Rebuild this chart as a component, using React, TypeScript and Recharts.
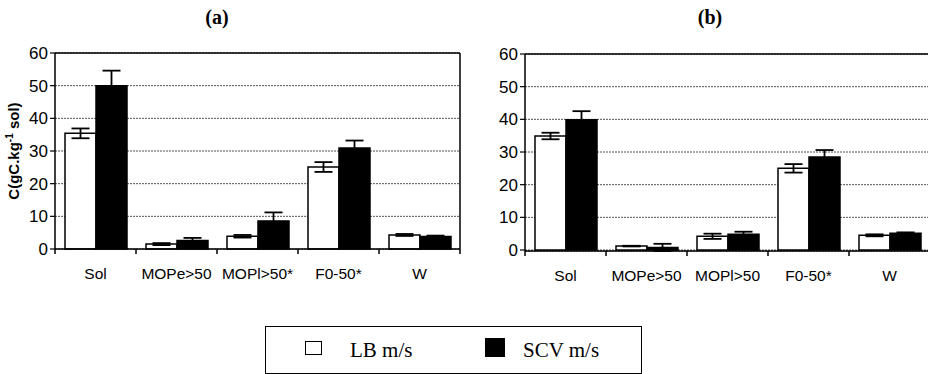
import React from 'react';
import { BarChart, Bar, XAxis, YAxis, CartesianGrid, ErrorBar, ReferenceLine, Label } from 'recharts';

const categoriesA = ['Sol', 'MOPe>50', 'MOPl>50*', 'F0-50*', 'W'];
const lbA = [35.4, 1.5, 3.9, 25.1, 4.3];
const lbErrA = [1.5, 0.3, 0.4, 1.5, 0.3];
const scvA = [50.0, 2.6, 8.6, 30.9, 3.8];
const scvErrA = [4.6, 0.8, 2.6, 2.3, 0.3];

const categoriesB = ['Sol', 'MOPe>50', 'MOPl>50', 'F0-50*', 'W'];
const lbB = [34.9, 1.2, 4.2, 25.0, 4.5];
const lbErrB = [1.0, 0.1, 0.8, 1.3, 0.3];
const scvB = [39.9, 0.8, 4.8, 28.5, 5.1];
const scvErrB = [2.6, 1.1, 0.8, 2.1, 0.3];

const yTicks = [0, 10, 20, 30, 40, 50, 60];
const seriesNames = ['LB m/s', 'SCV m/s'];
const titles = ['(a)', '(b)'];
const yLabelMain = 'C(gC.kg';
const yLabelSup = '-1';
const yLabelEnd = ' sol)';

const build = (cats: string[], lb: number[], lbe: number[], scv: number[], scve: number[]) =>
  cats.map((c, i) => ({ cat: c, lb: lb[i], lbErr: lbe[i], scv: scv[i], scvErr: scve[i] }));

const dataA = build(categoriesA, lbA, lbErrA, scvA, scvErrA);
const dataB = build(categoriesB, lbB, lbErrB, scvB, scvErrB);

const SANS = 'Arial, "Liberation Sans", sans-serif';
const SERIF = '"Times New Roman", "Liberation Serif", serif';

const XTick = (props: any) => {
  const { x, y, payload, index, visibleTicksCount } = props;
  const off = payload && payload.offset != null ? payload.offset : 40.5;
  const top = y - 8;
  return (
    <g>
      <line x1={x - off} x2={x - off} y1={top} y2={top + 5} stroke="#000" strokeWidth={1.5} />
      {index === (visibleTicksCount ?? 5) - 1 && (
        <line x1={x + off} x2={x + off} y1={top} y2={top + 5} stroke="#000" strokeWidth={1.5} />
      )}
      <text x={x} y={top + 30} textAnchor="middle" fontFamily={SANS} fontSize={15.5} fill="#000">
        {payload.value}
      </text>
    </g>
  );
};

const YLabel = (props: any) => {
  const vb = props.viewBox || { x: 0, y: 53, width: 55, height: 196 };
  const cx = 19;
  const cy = vb.y + vb.height / 2;
  return (
    <text
      x={cx}
      y={cy}
      transform={`rotate(-90 ${cx} ${cy})`}
      textAnchor="middle"
      fontFamily={SANS}
      fontSize={15}
      fontWeight="bold"
      fill="#000"
    >
      {yLabelMain}
      <tspan dy={-6} fontSize={10}>{yLabelSup}</tspan>
      <tspan dy={6}>{yLabelEnd}</tspan>
    </text>
  );
};

const Panel = ({ data, width, height, margin, showYLabel, rightBorder }: any) => (
  <BarChart width={width} height={height} data={data} margin={margin} barGap={0} barSize={31}>
    <CartesianGrid vertical={false} stroke="#555" strokeDasharray="2 1" />
    <XAxis
      dataKey="cat"
      height={30}
      axisLine={{ stroke: '#000', strokeWidth: 1.5 }}
      tickLine={false}
      tickSize={6}
      tickMargin={2}
      tick={<XTick />}
      interval={0}
    />
    <YAxis
      width={55}
      domain={[0, 60]}
      ticks={yTicks}
      interval={0}
      axisLine={{ stroke: '#000', strokeWidth: 1.5 }}
      tickLine={{ stroke: '#000', strokeWidth: 1.2 }}
      tickSize={5}
      tick={{ fontFamily: SANS, fontSize: 17, fill: '#000' }}
    >
      {showYLabel && <Label content={<YLabel />} />}
    </YAxis>
    {rightBorder && (
      <YAxis
        yAxisId="r"
        orientation="right"
        width={1}
        domain={[0, 60]}
        tick={false}
        tickLine={false}
        axisLine={{ stroke: '#000', strokeWidth: 1.5 }}
      />
    )}
    <ReferenceLine y={60} stroke="#000" strokeWidth={1.5} />
    <Bar dataKey="lb" name={seriesNames[0]} fill="#fff" stroke="#000" strokeWidth={1.5} isAnimationActive={false}>
      <ErrorBar dataKey="lbErr" width={9} stroke="#000" strokeWidth={1.8} direction="y" />
    </Bar>
    <Bar dataKey="scv" name={seriesNames[1]} fill="#000" stroke="#000" strokeWidth={1.5} isAnimationActive={false}>
      <ErrorBar dataKey="scvErr" width={9} stroke="#000" strokeWidth={1.8} direction="y" />
    </Bar>
  </BarChart>
);

export default function App() {
  return (
    <div style={{ position: 'absolute', left: 0, top: 0, width: 928, height: 374, background: '#fff', overflow: 'hidden' }}>
      <div style={{ position: 'absolute', left: 0, top: 0 }}>
        <Panel
          data={dataA}
          width={470}
          height={295}
          margin={{ top: 53, right: 9, left: 0, bottom: 16 }}
          showYLabel
          rightBorder
        />
      </div>
      <div style={{ position: 'absolute', left: 470, top: 0 }}>
        <Panel
          data={dataB}
          width={460}
          height={295}
          margin={{ top: 54, right: 0, left: 0, bottom: 14 }}
        />
      </div>
      <div style={{ position: 'absolute', left: 197, top: 6, width: 40, textAlign: 'center', fontFamily: SERIF, fontWeight: 'bold', fontSize: 20 }}>
        {titles[0]}
      </div>
      <div style={{ position: 'absolute', left: 690, top: 6, width: 40, textAlign: 'center', fontFamily: SERIF, fontWeight: 'bold', fontSize: 20 }}>
        {titles[1]}
      </div>
      <div
        style={{
          position: 'absolute',
          left: 265,
          top: 326,
          width: 377,
          height: 48,
          boxSizing: 'border-box',
          border: '1.5px solid #000',
          fontFamily: SERIF,
          fontSize: 21,
          color: '#000',
        }}
      >
        <div style={{ position: 'absolute', left: 39, top: 14, width: 15, height: 12, border: '1.5px solid #000', background: '#fff' }} />
        <div style={{ position: 'absolute', left: 84, top: 9, lineHeight: '28px' }}>{seriesNames[0]}</div>
        <div style={{ position: 'absolute', left: 219, top: 11, width: 20, height: 19, background: '#000' }} />
        <div style={{ position: 'absolute', left: 257, top: 9, lineHeight: '28px' }}>{seriesNames[1]}</div>
      </div>
    </div>
  );
}
